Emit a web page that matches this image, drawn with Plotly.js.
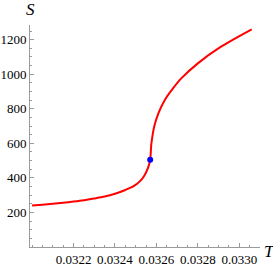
<!DOCTYPE html>
<html>
<head>
<meta charset="utf-8">
<script src="https://cdn.plot.ly/plotly-3.0.1.min.js"></script>
<style>html,body{margin:0;padding:0;background:#fff;}#chart{width:273px;height:266px;}</style>
</head>
<body>
<div id="chart"></div>
<script>
const T = [0.03200, 0.03205, 0.03210, 0.03215, 0.03220, 0.03225, 0.03230, 0.03235, 0.03240, 0.03245, 0.03249, 0.03252, 0.03254, 0.03256, 0.03257, 0.032575, 0.03258, 0.03259, 0.03261, 0.03264, 0.03268, 0.03272, 0.03280, 0.03291, 0.03306];
const S = [240, 245, 250, 256, 263, 271, 281, 292, 308, 330, 352, 380, 410, 460, 505, 590, 635, 700, 775, 850, 918, 976, 1063, 1158, 1260];
const pointT = [0.03257];
const pointS = [505];
const xTicks = [0.0322, 0.0324, 0.0326, 0.0328, 0.0330];
const xTickText = ["0.0322", "0.0324", "0.0326", "0.0328", "0.0330"];
const yTicks = [200, 400, 600, 800, 1000, 1200];
const yTickText = ["200", "400", "600", "800", "1000", "1200"];

const axisColor = '#9a9a9a';
const tickFont = {family: '"Liberation Serif", "DejaVu Serif", serif', size: 13, color: '#000'};

const data = [
  {x: T, y: S, type: 'scatter', mode: 'lines', line: {color: '#ff0000', width: 2, shape: 'spline', smoothing: 0.8}, hoverinfo: 'skip'},
  {x: pointT, y: pointS, type: 'scatter', mode: 'markers', marker: {color: '#0000ff', size: 6}, hoverinfo: 'skip'}
];

const layout = {
  width: 273, height: 266,
  margin: {l: 30, r: 13, t: 25, b: 19},
  paper_bgcolor: '#fff', plot_bgcolor: '#fff',
  showlegend: false,
  xaxis: {
    range: [0.03199, 0.0331], showgrid: false, zeroline: false,
    showline: true, linecolor: axisColor, linewidth: 1,
    ticks: 'inside', ticklen: 4, tickcolor: axisColor, tickwidth: 1,
    tickvals: xTicks, ticktext: xTickText, tickfont: tickFont,
    minor: {dtick: 0.00005, tick0: 0.032, ticks: 'inside', ticklen: 2, tickcolor: axisColor, showgrid: false}
  },
  yaxis: {
    range: [0, 1285], showgrid: false, zeroline: false,
    showline: true, linecolor: axisColor, linewidth: 1,
    ticks: 'inside', ticklen: 4, tickcolor: axisColor, tickwidth: 1,
    tickvals: yTicks, ticktext: yTickText, tickfont: tickFont,
    minor: {dtick: 50, tick0: 0, ticks: 'inside', ticklen: 2, tickcolor: axisColor, showgrid: false}
  },
  annotations: [
    {text: 'S', xref: 'paper', yref: 'paper', x: 0, y: 1, xanchor: 'center', yanchor: 'bottom', yshift: 4, showarrow: false,
     font: {family: '"Liberation Serif", serif', size: 17, color: '#000', style: 'italic'}},
    {text: 'T', xref: 'paper', yref: 'paper', x: 1, y: 0, xanchor: 'left', yanchor: 'middle', xshift: 2, yshift: -4, showarrow: false,
     font: {family: '"Liberation Serif", serif', size: 17, color: '#000', style: 'italic'}}
  ]
};

Plotly.newPlot('chart', data, layout, {displayModeBar: false, staticPlot: true});
</script>
</body>
</html>
